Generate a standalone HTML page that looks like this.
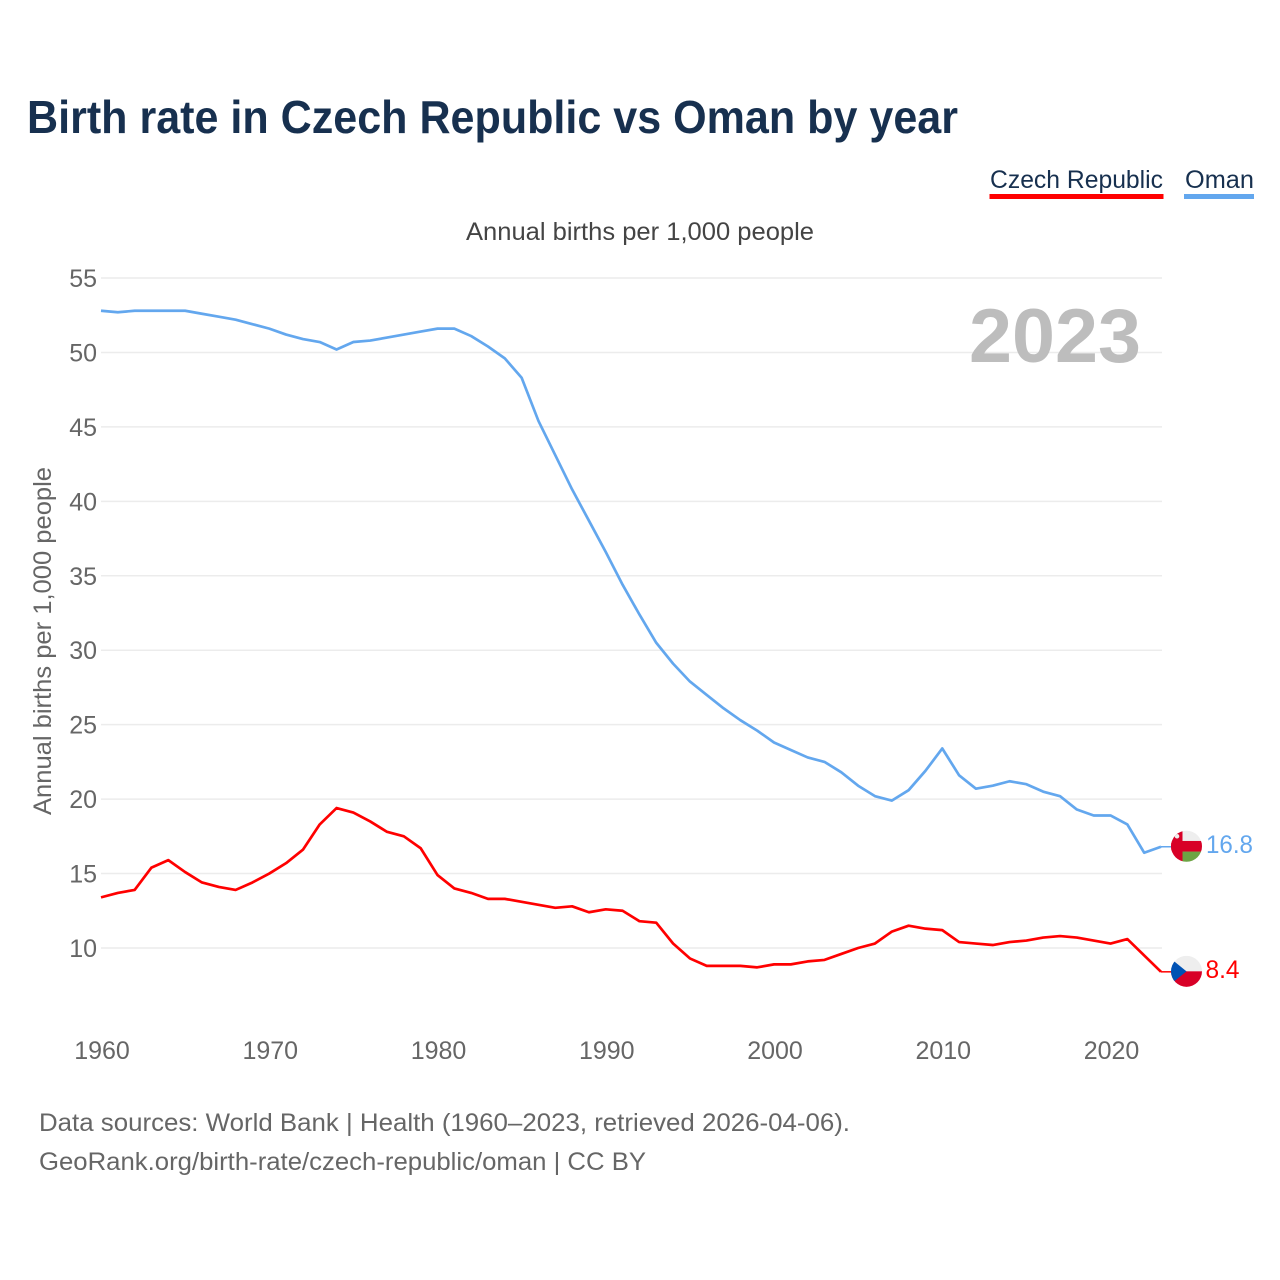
<!DOCTYPE html>
<html lang="en">
<head>
<meta charset="utf-8">
<title>Birth rate in Czech Republic vs Oman by year</title>
<style>
html,body{margin:0;padding:0;background:#fff;width:1280px;height:1280px;overflow:hidden}
svg{display:block;font-family:"Liberation Sans",sans-serif}
</style>
</head>
<body>
<svg id="chart" xmlns="http://www.w3.org/2000/svg" width="1280" height="1280" viewBox="0 0 1280 1280">
  <defs>
    <clipPath id="flag-clip"><circle cx="0" cy="0" r="15.5"/></clipPath>
  </defs>
  <text x="27" y="133" font-size="46" font-weight="700" fill="#17304f" textLength="931" lengthAdjust="spacingAndGlyphs">Birth rate in Czech Republic vs Oman by year</text>

  <g>
    <text x="990" y="188" font-size="25" fill="#17304f" textLength="173" lengthAdjust="spacingAndGlyphs">Czech Republic</text>
    <rect x="989.5" y="194" width="174" height="5" fill="#ff0000"/>
  </g>
  <g>
    <text x="1185" y="188" font-size="25" fill="#17304f" textLength="69" lengthAdjust="spacingAndGlyphs">Oman</text>
    <rect x="1184" y="194" width="70" height="5" fill="#63a7ee"/>
  </g>

  <text x="466" y="240" font-size="25" fill="#444444" textLength="348" lengthAdjust="spacingAndGlyphs">Annual births per 1,000 people</text>
  <text transform="translate(51,815) rotate(-90)" font-size="25" fill="#666666" textLength="348" lengthAdjust="spacingAndGlyphs">Annual births per 1,000 people</text>

  <g id="grid"></g>
  <g id="y-ticks"></g>
  <g id="x-ticks"></g>

  <text x="969" y="362" font-size="76" font-weight="700" fill="#bdbdbd" textLength="172" lengthAdjust="spacingAndGlyphs">2023</text>

  <g id="series"></g>

  <g id="flag-oman">
    <g clip-path="url(#flag-clip)">
      <rect x="-16" y="-16" width="32" height="32" fill="#eeeeee"/>
      <rect x="-4" y="5.3" width="20" height="11" fill="#6da544"/>
      <rect x="-16" y="-5.3" width="32" height="10.6" fill="#d80027"/>
      <rect x="-16" y="-16" width="12" height="32" fill="#d80027"/>
      <circle cx="-9.5" cy="-10" r="2.3" fill="#eeeeee"/>
    </g>
  </g>
  <g id="flag-czech">
    <g clip-path="url(#flag-clip)">
      <rect x="-16" y="-16" width="32" height="16" fill="#eeeeee"/>
      <rect x="-16" y="0" width="32" height="16" fill="#d80027"/>
      <path d="M-16,-13 L0,0 L-16,13 Z" fill="#0052b4"/>
    </g>
  </g>

  <text id="value-oman" font-size="25" fill="#63a7ee" textLength="47" lengthAdjust="spacingAndGlyphs"></text>
  <text id="value-czech" font-size="25" fill="#ff0000" textLength="34" lengthAdjust="spacingAndGlyphs"></text>

  <text x="39" y="1131" font-size="25" fill="#666666" textLength="811" lengthAdjust="spacingAndGlyphs">Data sources: World Bank | Health (1960–2023, retrieved 2026-04-06).</text>
  <text x="39" y="1170" font-size="25" fill="#666666" textLength="607" lengthAdjust="spacingAndGlyphs">GeoRank.org/birth-rate/czech-republic/oman | CC BY</text>
</svg>

<script>
const startYear = 1960;
const xTickLabels = [1960, 1970, 1980, 1990, 2000, 2010, 2020];
const yTickLabels = [10, 15, 20, 25, 30, 35, 40, 45, 50, 55];
const omanValues = [
  52.8, 52.7, 52.8, 52.8, 52.8, 52.8, 52.6, 52.4, 52.2, 51.9,
  51.6, 51.2, 50.9, 50.7, 50.2, 50.7, 50.8, 51.0, 51.2, 51.4,
  51.6, 51.6, 51.1, 50.4, 49.6, 48.3, 45.4, 43.1, 40.8, 38.7,
  36.6, 34.4, 32.4, 30.5, 29.1, 27.9, 27.0, 26.1, 25.3, 24.6,
  23.8, 23.3, 22.8, 22.5, 21.8, 20.9, 20.2, 19.9, 20.6, 21.9,
  23.4, 21.6, 20.7, 20.9, 21.2, 21.0, 20.5, 20.2, 19.3, 18.9,
  18.9, 18.3, 16.4, 16.8
];
const czechValues = [
  13.4, 13.7, 13.9, 15.4, 15.9, 15.1, 14.4, 14.1, 13.9, 14.4,
  15.0, 15.7, 16.6, 18.3, 19.4, 19.1, 18.5, 17.8, 17.5, 16.7,
  14.9, 14.0, 13.7, 13.3, 13.3, 13.1, 12.9, 12.7, 12.8, 12.4,
  12.6, 12.5, 11.8, 11.7, 10.3, 9.3, 8.8, 8.8, 8.8, 8.7,
  8.9, 8.9, 9.1, 9.2, 9.6, 10.0, 10.3, 11.1, 11.5, 11.3,
  11.2, 10.4, 10.3, 10.2, 10.4, 10.5, 10.7, 10.8, 10.7, 10.5,
  10.3, 10.6, 9.5, 8.4
];

const NS = 'http://www.w3.org/2000/svg';
function xScale(year) { return 101 + (year - 1960) * (1060 / 63); }
function yScale(v) { return 948 - (v - 10) * (670 / 45); }

function make(tag, attrs, parent) {
  const el = document.createElementNS(NS, tag);
  for (const k in attrs) el.setAttribute(k, attrs[k]);
  parent.appendChild(el);
  return el;
}

const grid = document.getElementById('grid');
const yTicks = document.getElementById('y-ticks');
const xTicks = document.getElementById('x-ticks');
const series = document.getElementById('series');

yTickLabels.forEach(function (v) {
  const line = make('line', { x1: 101, x2: 1162, y1: yScale(v), y2: yScale(v), stroke: '#ececec', 'stroke-width': 1.5 }, grid);
  
  
  const t = make('text', { x: 97, y: yScale(v) + 9, 'text-anchor': 'end', 'font-size': 25, fill: '#666666' }, yTicks);
  
  
  t.textContent = v;
});

xTickLabels.forEach(function (yr) {
  const t = make('text', { x: xScale(yr) + 1, y: 1059, 'text-anchor': 'middle', 'font-size': 25, fill: '#666666' }, xTicks);
  
  
  t.textContent = yr;
});

function drawSeries(values, color, lineName, stubName) {
  const pts = values.map(function (v, i) { return xScale(startYear + i) + ',' + yScale(v); }).join(' ');
  const line = make('polyline', { points: pts, fill: 'none', stroke: color, 'stroke-width': 2.7, 'stroke-linejoin': 'round' }, series);
  
  
  const lastX = xScale(startYear + values.length - 1);
  const lastY = yScale(values[values.length - 1]);
  const stub = make('line', { x1: lastX, x2: lastX + 12, y1: lastY, y2: lastY, stroke: color, 'stroke-width': 1.5 }, series);
  
  
}
drawSeries(omanValues, '#63a7ee', 'line-oman', 'end-connector-oman');
drawSeries(czechValues, '#ff0000', 'line-czech-republic', 'end-connector-czech-republic');

const omanLast = omanValues[omanValues.length - 1];
const czechLast = czechValues[czechValues.length - 1];
document.getElementById('flag-oman').setAttribute('transform', 'translate(1186.5,' + (yScale(omanLast) - 0.5) + ')');
document.getElementById('flag-czech').setAttribute('transform', 'translate(1186.5,' + (yScale(czechLast) - 0.5) + ')');
const vo = document.getElementById('value-oman');
vo.setAttribute('x', 1206);
vo.setAttribute('y', yScale(omanLast) + 6);
vo.textContent = omanLast.toFixed(1);
const vc = document.getElementById('value-czech');
vc.setAttribute('x', 1205.5);
vc.setAttribute('y', yScale(czechLast) + 6);
vc.textContent = czechLast.toFixed(1);
</script>
</body>
</html>
